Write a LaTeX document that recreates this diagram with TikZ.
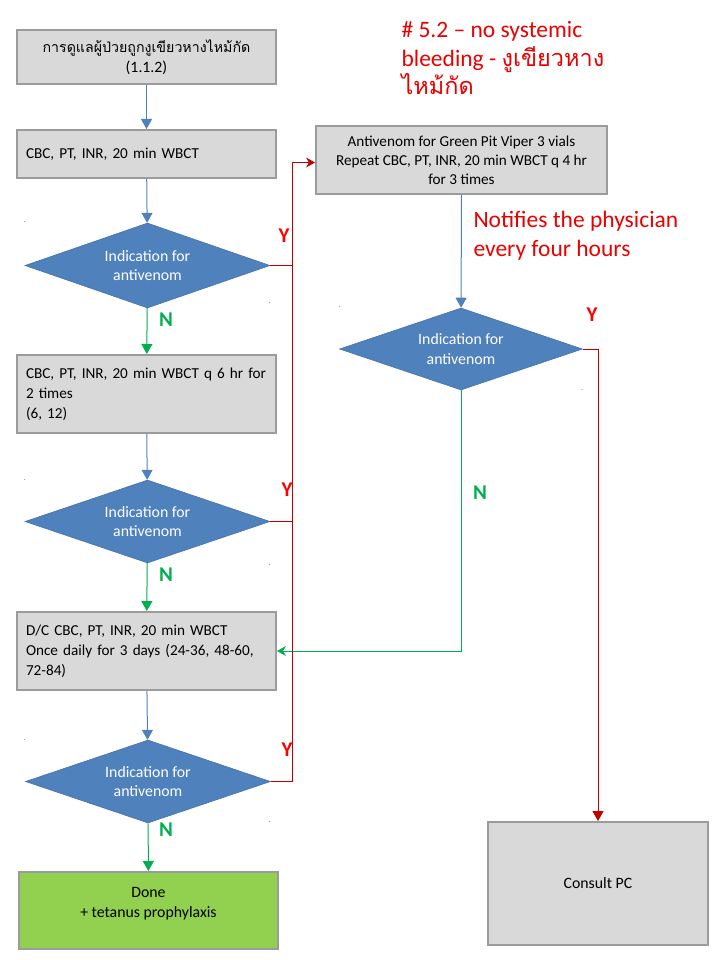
\documentclass[tikz,border=0pt]{standalone}
\usepackage{fontspec}
\setmainfont{Carlito}
\newfontfamily\thaifont[Script=Thai]{Loma}
\usetikzlibrary{shapes.geometric,arrows.meta}
\definecolor{boxgray}{RGB}{217,217,217}
\definecolor{boxedge}{RGB}{155,155,155}
\definecolor{qblue}{RGB}{79,129,189}
\definecolor{qedge}{RGB}{70,114,168}
\definecolor{doneg}{RGB}{146,208,80}
\definecolor{yred}{RGB}{192,0,0}
\definecolor{ngreen}{RGB}{0,176,80}
\definecolor{tred}{RGB}{235,0,0}
\frenchspacing

\begin{document}
\begin{tikzpicture}[x=1pt,y=-1pt,
    box/.style={draw=boxedge, line width=2pt, fill=boxgray, inner sep=0pt, minimum width=259pt,
        font=\fontsize{15.8}{20}\selectfont},
    lbox/.style={box, align=left, text width=241pt, font=\fontsize{15.2}{20}\selectfont},
    cbox/.style={box, align=center},
    question/.style={diamond, shape aspect=2.8, fill=qblue, draw=qedge, line width=0.6pt, inner sep=0pt,
        minimum width=245pt, align=center, text=white, font=\fontsize{15.8}{19.5}\selectfont},
    seq/.style={draw=qblue, line width=1pt, -{Triangle[width=11pt,length=10pt]}},
    noline/.style={draw=ngreen, line width=1pt, -{Triangle[width=11pt,length=10pt]}},
    yesline/.style={draw=yred, line width=1pt},
    ylab/.style={text=red, font=\fontsize{21}{22}\selectfont\bfseries},
    nlab/.style={text=ngreen, font=\fontsize{21}{22}\selectfont\bfseries},
    note/.style={text=tred, align=left, font=\fontsize{23.5}{28.5}\selectfont},
    speck/.style={inner sep=0pt, font=\fontsize{6}{6}\selectfont}]
    \useasboundingbox (0,0) rectangle (720,960);

    % left column
    \node[cbox, minimum height=54pt] (start) at (146.5,57) {{\thaifont\fontsize{14.2}{20}\selectfont การดูแลผู้ป่วยถูกงูเขียวหางไหม้กัด}\\(1.1.2)};
    \node[lbox, minimum height=48pt] (lab1) at (146.5,154) {CBC, PT, INR, 20 min WBCT};
    \node[question, minimum height=85pt] (q1) at (147.5,265.5) {Indication for\\antivenom};
    \node[lbox, minimum height=78pt] (lab2) at (146.5,394) {CBC, PT, INR, 20 min WBCT q 6 hr for\\2 times\\(6, 12)};
    \node[question, minimum height=83pt] (q2) at (147.5,521.5) {Indication for\\antivenom};
    \node[lbox, minimum height=78pt] (lab3) at (146.5,651) {D/C CBC, PT, INR, 20 min WBCT\\Once daily for 3 days (24-36, 48-60,\\72-84)};
    \node[question, minimum height=83pt] (q3) at (148,781.5) {Indication for\\antivenom};
    \node[cbox, fill=doneg, minimum height=77pt] (done) at (148.5,910.5) {Done\\+ tetanus prophylaxis\\[-4pt]\mbox{}};

    % right column
    \node[cbox, minimum width=291pt, minimum height=68pt, font=\fontsize{15.2}{19}\selectfont] (av) at (461.5,160) {Antivenom for Green Pit Viper 3 vials\\Repeat CBC, PT, INR, 20 min WBCT q 4 hr\\for 3 times};
    \node[question, minimum width=243pt, minimum height=82pt] (q4) at (461,349) {Indication for\\antivenom};
    \node[cbox, minimum width=220pt, minimum height=123pt] (pc) at (598,883.5) {Consult PC};

    % notes
    \node[note, anchor=north west] (title) at (398,18) {\# 5.2 -- no systemic\\bleeding - {\thaifont งูเขียวหาง}\\{\thaifont ไหม้กัด}};
    \node[note, anchor=north west] (notify) at (470,208) {Notifies the physician\\every four hours};

    % straight down
    \draw[seq] (start) -- (lab1);
    \draw[seq] (lab1) -- (q1);
    \draw[seq] (lab2) -- (q2);
    \draw[seq] (lab3) -- (q3);
    \draw[seq] (av) -- (q4);

    % N branches
    \draw[noline] (q1) -- (lab2);
    \draw[noline] (q2) -- (lab3);
    \draw[noline] (q3) -- (done);
    \draw[noline, -{Stealth[width=10pt,length=9pt,inset=3pt]}] (q4.south) |- (lab3.east);

    % Y branches
    \coordinate (ybus) at (292,162.5);
    \draw[yesline] (q1.east) -- (q1.east -| ybus);
    \draw[yesline] (q2.east) -- (q2.east -| ybus);
    \draw[yesline, -{Stealth[width=10pt,length=9pt,inset=3pt]}] (q3.east) -| (ybus) -- (ybus -| av.west);
    \draw[yesline, -{Triangle[width=11pt,length=10pt]}] (q4.east) -| (pc.north);

    \node[ylab] (y1) at (284,236) {Y};
    \node[ylab] (y2) at (287,490) {Y};
    \node[ylab] (y3) at (287,750) {Y};
    \node[ylab] (y4) at (592,315) {Y};
    \node[nlab] (n1) at (166,320) {N};
    \node[nlab] (n2) at (166,575) {N};
    \node[nlab] (n3) at (166,830) {N};
    \node[nlab] (n4) at (480,493) {N};

    % stray dots
    \node[speck] (d1) at (25,222) {.};
    \node[speck] (d2) at (270,303) {.};
    \node[speck] (d3) at (340,307) {.};
    \node[speck] (d4) at (582,390) {.};
    \node[speck] (d5) at (25,480) {.};
    \node[speck] (d6) at (270,565) {.};
    \node[speck] (d7) at (25,740) {.};
    \node[speck] (d8) at (270,822) {.};
\end{tikzpicture}
\end{document}
